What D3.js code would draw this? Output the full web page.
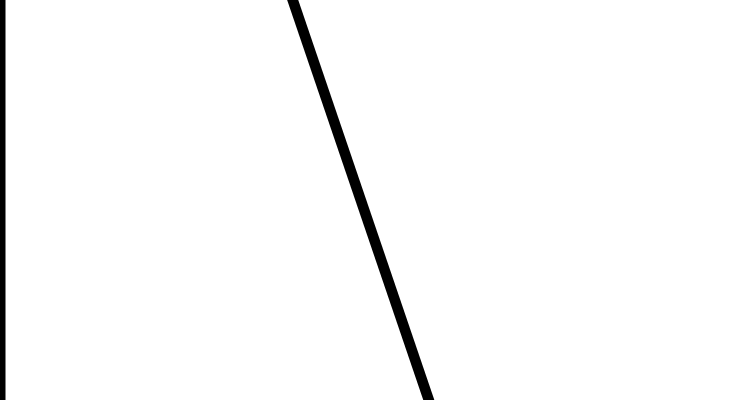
<!DOCTYPE html>
<html>
<head>
<meta charset="utf-8">
<script src="https://cdn.jsdelivr.net/npm/d3@7"></script>
<style>
  html, body { margin: 0; padding: 0; background: #fff; }
  svg { display: block; }
</style>
</head>
<body>
<svg class="chart-svg"></svg>
<script>
var chart_width = 750;
var chart_height = 400;

// series (x in 0-100, y in 0-100)
var line_x = [38.3, 57.9];
var line_y = [104, -4];
var axis_x = [0, 0];
var axis_y = [0, 100];

var svg = d3.select('.chart-svg')
	.attr('width', chart_width)
	.attr('height', chart_height);

svg.append('rect')
	.attr('width', chart_width)
	.attr('height', chart_height)
	.attr('fill', '#fff');

var x = d3.scaleLinear().domain([0, 100]).range([0, chart_width]);
var y = d3.scaleLinear().domain([0, 100]).range([chart_height, 0]);

var line = d3.line()
	.x(function(d) { return x(d[0]); })
	.y(function(d) { return y(d[1]); });

// left axis line
svg.append('path')
	.datum(d3.zip(axis_x, axis_y))
	.attr('d', line)
	.attr('fill', 'none')
	.attr('stroke', '#000')
	.attr('stroke-width', 11);

// data line
svg.append('path')
	.datum(d3.zip(line_x, line_y))
	.attr('d', line)
	.attr('fill', 'none')
	.attr('stroke', '#000')
	.attr('stroke-width', 10.5)
	.attr('stroke-linecap', 'butt');
</script>
</body>
</html>
